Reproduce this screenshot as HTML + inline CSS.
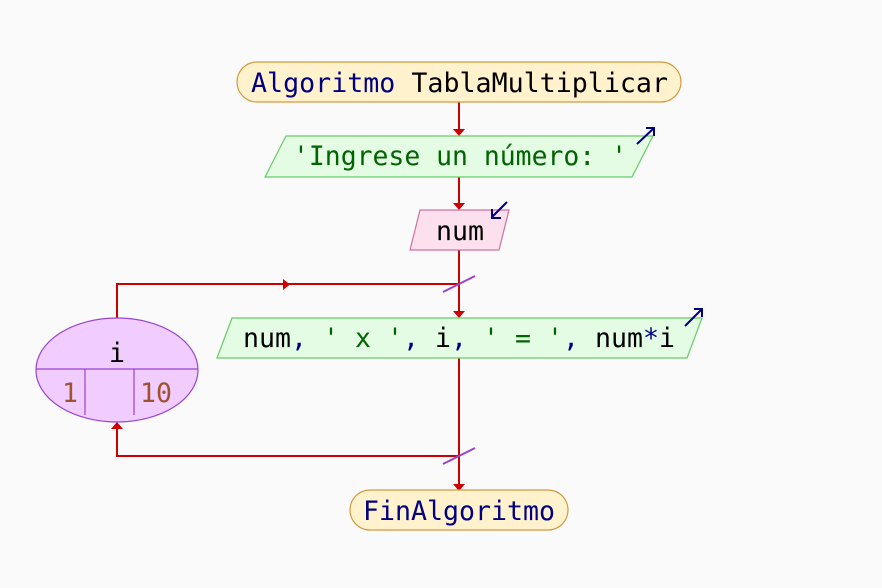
<!DOCTYPE html>
<html><head><meta charset="utf-8"><style>
html,body{margin:0;padding:0;background:#fafafa;}
svg{display:block}
text{font-family:"DejaVu Sans Mono","Liberation Mono",monospace;font-size:26.5px;}
</style></head><body>
<svg width="882" height="588" viewBox="0 0 882 588" xmlns="http://www.w3.org/2000/svg">
<rect width="882" height="588" fill="#fafafa"/>
<g stroke="#cc0000" stroke-width="2" fill="none">
<line x1="459" y1="102" x2="459" y2="130"/>
<line x1="459" y1="177" x2="459" y2="204"/>
<line x1="459" y1="250" x2="459" y2="312"/>
<line x1="459" y1="358" x2="459" y2="485"/>
<polyline points="117,318 117,284 459,284"/>
<polyline points="459,456 117,456 117,427"/>
</g>
<g fill="#cc0000">
<polygon points="453,129 465,129 459,136"/>
<polygon points="453,203 465,203 459,210"/>
<polygon points="453,311 465,311 459,318"/>
<polygon points="453,484 465,484 459,491"/>
<polygon points="283,279 283,290 290,284.5"/>
<polygon points="111,429 123,429 117,422"/>
</g>
<g stroke="#9944cc" stroke-width="2">
<line x1="443" y1="292" x2="475" y2="276"/>
<line x1="443" y1="464" x2="475" y2="448"/>
</g>
<rect x="237" y="62" width="444" height="40" rx="20" fill="#fff2cc" stroke="#d09a40" stroke-width="1.2"/>
<text x="251" y="92" textLength="417" lengthAdjust="spacingAndGlyphs"><tspan fill="#000080">Algoritmo</tspan><tspan fill="#000"> TablaMultiplicar</tspan></text>
<polygon points="286,136 653,136 632,177 265,177" fill="#e4fbe4" stroke="#66cc66" stroke-width="1.2"/>
<text x="293" y="165" fill="#006400" textLength="334" lengthAdjust="spacingAndGlyphs">'Ingrese un número: '</text>
<g stroke="#000080" stroke-width="2" fill="none"><line x1="637" y1="144" x2="653" y2="129"/><polyline points="646,128 654,128 654,136"/></g>
<polygon points="420,210 509,210 499,250 410,250" fill="#fde0ee" stroke="#d070a0" stroke-width="1.2"/>
<text x="436" y="240" fill="#000" textLength="48" lengthAdjust="spacingAndGlyphs">num</text>
<g stroke="#000080" stroke-width="2" fill="none"><line x1="507" y1="202" x2="492" y2="217"/><polyline points="492,209 492,218 501,218"/></g>
<polygon points="232,318 702,318 687,358 217,358" fill="#e4fbe4" stroke="#66cc66" stroke-width="1.2"/>
<text x="243" y="347" textLength="432" lengthAdjust="spacingAndGlyphs"><tspan fill="#000">num</tspan><tspan fill="#000080">,</tspan><tspan fill="#006400"> ' x '</tspan><tspan fill="#000080">,</tspan><tspan fill="#000"> i</tspan><tspan fill="#000080">,</tspan><tspan fill="#006400"> ' = '</tspan><tspan fill="#000080">,</tspan><tspan fill="#000"> num</tspan><tspan fill="#000080">*</tspan><tspan fill="#000">i</tspan></text>
<g stroke="#000080" stroke-width="2" fill="none"><line x1="685" y1="326" x2="701" y2="310"/><polyline points="694,309 702,309 702,317"/></g>
<ellipse cx="117" cy="370" rx="81" ry="52" fill="#f0ccff" stroke="#9944cc" stroke-width="1.2"/>
<g stroke="#9944cc" stroke-width="1.2"><line x1="36" y1="369" x2="198" y2="369"/><line x1="85" y1="369" x2="85" y2="415"/><line x1="134" y1="369" x2="134" y2="415"/></g>
<text x="117" y="362" text-anchor="middle" fill="#000">i</text>
<text x="62" y="402" fill="#a0522d">1</text>
<text x="140" y="402" fill="#a0522d" textLength="32" lengthAdjust="spacingAndGlyphs">10</text>
<rect x="350" y="490" width="218" height="40" rx="20" fill="#fff2cc" stroke="#d09a40" stroke-width="1.2"/>
<text x="363" y="520" fill="#000080" textLength="192" lengthAdjust="spacingAndGlyphs">FinAlgoritmo</text>
</svg>
</body></html>
